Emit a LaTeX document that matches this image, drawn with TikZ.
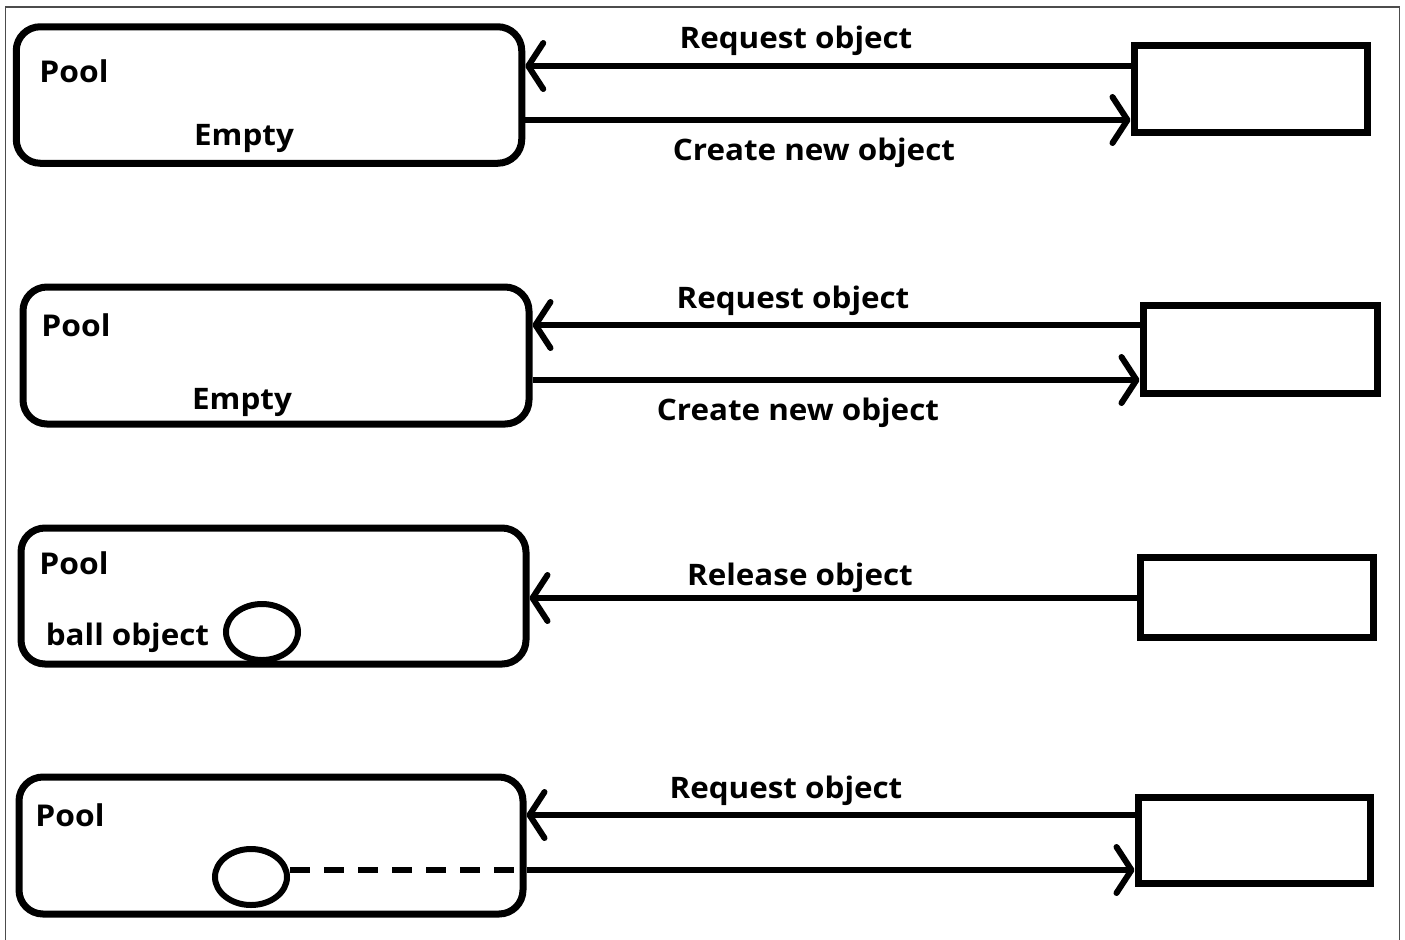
\documentclass[tikz,border=0pt]{standalone}
\usepackage{fontspec}
\setmainfont{Open Sans}[FakeStretch=1.06]
\usetikzlibrary{arrows.meta,shapes.geometric}
\begin{document}
\begin{tikzpicture}[x=0.5pt,y=-0.5pt,
  pool/.style={draw,line width=3.5pt,rounded corners=12pt,inner sep=0pt},
  client/.style={draw,line width=3.5pt,inner sep=0pt},
  ball/.style={draw,ellipse,line width=3pt,inner sep=0pt,minimum width=36pt,minimum height=28pt},
  arr/.style={line width=3pt,-{Straight Barb[length=7.5pt,width=23pt,line cap=round,line join=round]}},
  lbl/.style={anchor=base,inner sep=0pt,font=\bfseries\fontsize{14.8}{17}\selectfont},
  title/.style={anchor=base,inner sep=0pt,font=\bfseries\fontsize{15}{18}\selectfont}]
\useasboundingbox (0,0) rectangle (1405,939);
% outer frame
\draw[line width=0.75pt,black!70] (5.5,945) -- (5.5,7) -- (1399.5,7) -- (1399.5,945);

% --- first step: empty pool, new object created
\node[pool,minimum width=252.75pt,minimum height=68.25pt] (pool1) at (269,95) {};
\node[client,minimum width=116.5pt,minimum height=43.5pt] (rb1) at (1250.5,88.5) {};
\node[title] (p1) at (74,82) {Pool};
\node[lbl] (e1) at (244,145) {Empty};
\draw[arr] (rb1.west |- 0,66) -- (pool1.east |- 0,66);
\draw[arr] (pool1.east |- 0,120) -- (rb1.west |- 0,120);
\node[lbl] (t1a) at (796,48) {Request object};
\node[lbl] (t1b) at (814,160) {Create new object};

% --- second step
\node[pool,minimum width=253pt,minimum height=68.5pt] (pool2) at (276,355.5) {};
\node[client,minimum width=117pt,minimum height=44pt] (rb2) at (1260,349) {};
\node[title] (p2) at (76,336) {Pool};
\node[lbl] (e2) at (242,409) {Empty};
\draw[arr] (rb2.west |- 0,325) -- (pool2.east |- 0,325);
\draw[arr] (pool2.east |- 0,380) -- (rb2.west |- 0,380);
\node[lbl] (t2a) at (793,308) {Request object};
\node[lbl] (t2b) at (798,420) {Create new object};

% --- third step: object released back into the pool
\node[pool,minimum width=252.5pt,minimum height=68pt] (pool3) at (273.5,596) {};
\node[client,minimum width=116.5pt,minimum height=40pt] (rb3) at (1256.5,597) {};
\node[title] (p3) at (74,574) {Pool};
\node[lbl] (b3) at (127.5,645) {ball object};
\node[ball] (ball3) at (262,632) {};
\draw[arr] (rb3.west |- 0,598) -- (pool3.east |- 0,598);
\node[lbl] (t3a) at (800,585) {Release object};

% --- fourth step: pooled object handed out again
\node[pool,minimum width=252pt,minimum height=68.5pt] (pool4) at (271,845.5) {};
\node[client,minimum width=116pt,minimum height=43pt] (rb4) at (1254,840) {};
\node[title] (p4) at (70,826) {Pool};
\node[ball] (ball4) at (251,877) {};
\draw[arr] (rb4.west |- 0,815) -- (pool4.east |- 0,815);
\draw[line width=3pt,dash pattern=on 10pt off 7pt] (ball4.east |- 0,870) -- (pool4.east |- 0,870);
\draw[arr] (pool4.east |- 0,870) -- (rb4.west |- 0,870);
\node[lbl] (t4a) at (786,798) {Request object};
\end{tikzpicture}
\end{document}
